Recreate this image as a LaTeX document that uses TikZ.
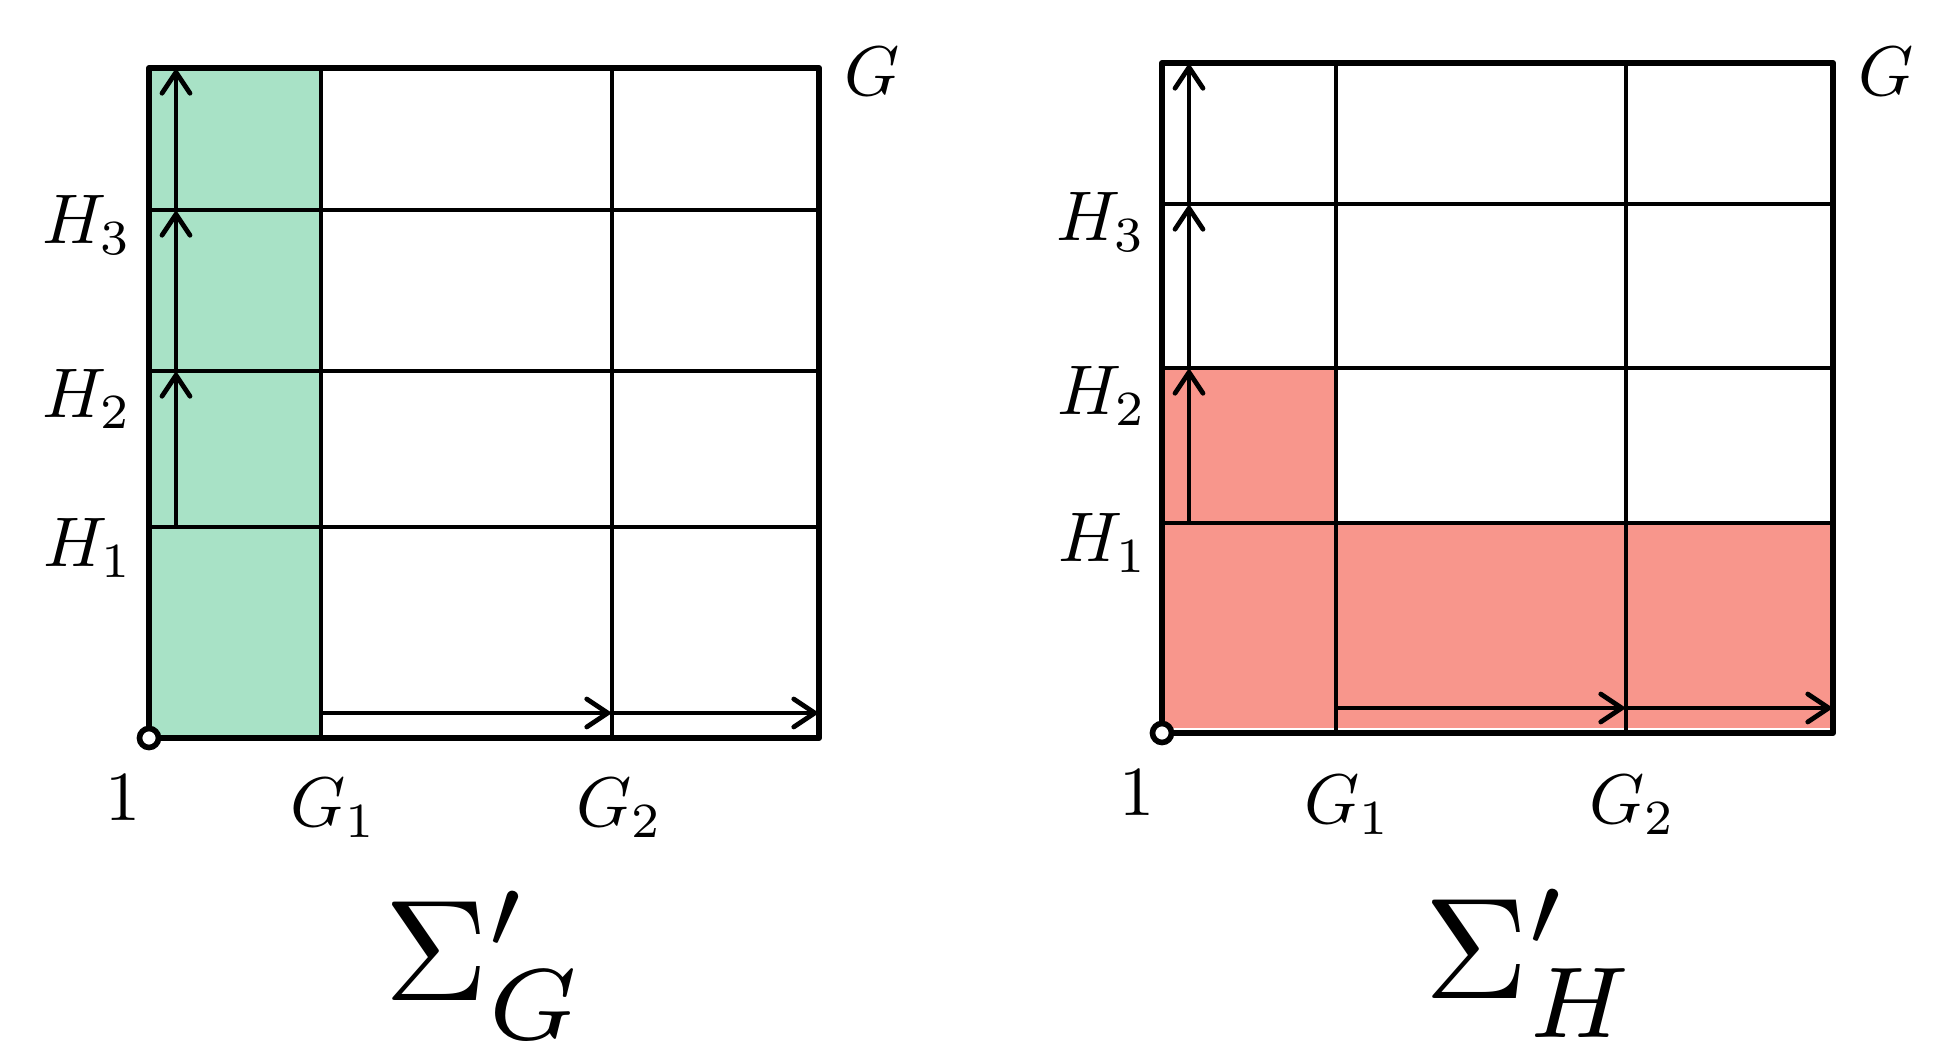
\documentclass[tikz,border=0pt]{standalone}
\usepackage{amsmath}
\usetikzlibrary{arrows.meta,positioning}

\definecolor{mintfill}{RGB}{168,226,198}
\definecolor{salmonfill}{RGB}{248,150,140}

\begin{document}
\begin{tikzpicture}[x=0.02cm,y=-0.02cm,
    frame/.style={line width=3.4pt,line join=round},
    gridline/.style={line width=2.8pt},
    arrow/.style={-{Straight Barb[length=0.42cm,width=0.56cm,line cap=round]},line width=2.7pt},
    lbl/.style={scale=4,inner sep=0pt},
    sumlbl/.style={scale=8.2,inner sep=0pt,anchor=base west},
    origin/.style={circle,draw,fill=white,line width=3.2pt,minimum size=0.38cm,inner sep=0pt}
    ]

    \useasboundingbox (0,0) rectangle (1952,1050);

    % left panel
    \begin{scope}[shift={(149,68)},name prefix=L-]
      \fill[mintfill] (0,0) rectangle (172,670);
      \foreach \y in {142,303,459} \draw[gridline] (0,\y) -- (670,\y);
      \foreach \x in {172,463} \draw[gridline] (\x,0) -- (\x,670);
      \draw[frame] (0,0) rectangle (670,670);

      \coordinate (top) at (27,0);
      \coordinate (h3) at (27,142);
      \coordinate (h2) at (27,303);
      \coordinate (h1) at (27,459);
      \coordinate (g1) at (172,645);
      \coordinate (g2) at (463,645);
      \coordinate (end) at (670,645);

      \draw[arrow] (h1) -- (h2);
      \draw[arrow] (h2) -- (h3);
      \draw[arrow] (h3) -- (top);
      \draw[arrow] (g1) -- (g2);
      \draw[arrow] (g2) -- (end);

      \node[origin] (one) at (0,670) {};
      \node[lbl] (onelbl) at (-26,730) {$1$};
      \node[lbl] (g1lbl) at (185,740) {$G_1$};
      \node[lbl] (g2lbl) at (471,740) {$G_2$};
      \node[lbl] (h1lbl) at (-61,480) {$H_1$};
      \node[lbl] (h2lbl) at (-62,331) {$H_2$};
      \node[lbl] (h3lbl) at (-62,157) {$H_3$};
      \node[lbl] (glbl) at (723,3) {$G$};
      \node[sumlbl] (sum) at (233,932) {$\Sigma'_G$};
    \end{scope}

    % right panel
    \begin{scope}[shift={(1162,63)},name prefix=R-]
      \fill[salmonfill] (0,460) rectangle (671,665);
      \fill[salmonfill] (0,305) rectangle (174,460);
      \foreach \y in {141,305,460} \draw[gridline] (0,\y) -- (671,\y);
      \foreach \x in {174,464} \draw[gridline] (\x,0) -- (\x,670);
      \draw[frame] (0,0) rectangle (671,670);

      \coordinate (top) at (27,0);
      \coordinate (h3) at (27,141);
      \coordinate (h2) at (27,305);
      \coordinate (h1) at (27,460);
      \coordinate (g1) at (174,645);
      \coordinate (g2) at (464,645);
      \coordinate (end) at (671,645);

      \draw[arrow] (h1) -- (h2);
      \draw[arrow] (h2) -- (h3);
      \draw[arrow] (h3) -- (top);
      \draw[arrow] (g1) -- (g2);
      \draw[arrow] (g2) -- (end);

      \node[origin] (one) at (0,670) {};
      \node[lbl] (onelbl) at (-25,730) {$1$};
      \node[lbl] (g1lbl) at (186,742) {$G_1$};
      \node[lbl] (g2lbl) at (471,742) {$G_2$};
      \node[lbl] (h1lbl) at (-59,480) {$H_1$};
      \node[lbl] (h2lbl) at (-60,333) {$H_2$};
      \node[lbl] (h3lbl) at (-61,159) {$H_3$};
      \node[lbl] (glbl) at (724,8) {$G$};
      \node[sumlbl] (sum) at (260,935) {$\Sigma'_H$};
    \end{scope}

  \end{tikzpicture}
\end{document}
